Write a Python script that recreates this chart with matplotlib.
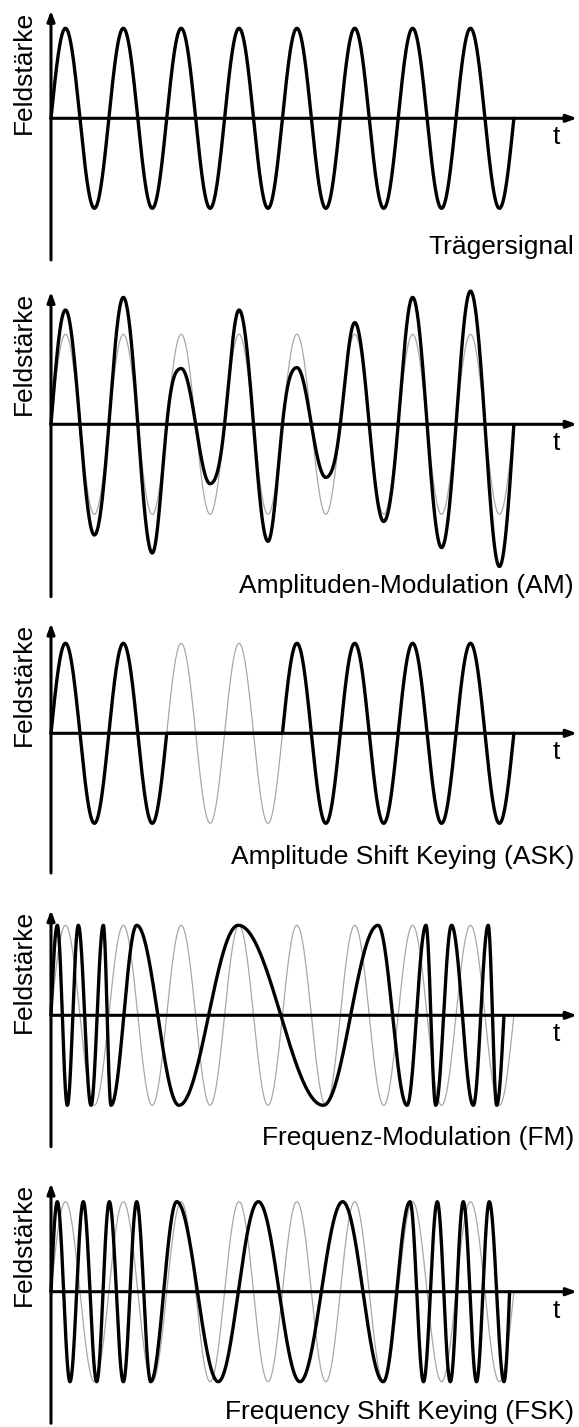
import numpy as np
import matplotlib
matplotlib.use("Agg")
import matplotlib.pyplot as plt

plt.rcParams["font.family"] = ["Liberation Sans", "DejaVu Sans"]

# time is measured in carrier periods, amplitude in carrier amplitudes
n_periods = 8

titles = ["Trägersignal",
          "Amplituden-Modulation (AM)",
          "Amplitude Shift Keying (ASK)",
          "Frequenz-Modulation (FM)",
          "Frequency Shift Keying (FSK)"]

# AM: amplitude of every half wave (peak, trough, peak, ...)
am_envelope = [1.27, 1.23, 1.41, 1.43, 0.62, 0.66, 1.27, 1.30,
               0.63, 0.59, 1.13, 1.08, 1.41, 1.37, 1.48, 1.58]

# ASK: carrier on/off for each period
ask_bits = [1, 1, 0, 0, 1, 1, 1, 1]

# FM / FSK: times of the extrema of the modulated signal (peak, trough, ...)
fm_extrema = [0.109, 0.282, 0.472, 0.691, 0.904, 1.037, 1.481, 2.212, 3.237,
              4.706, 5.652, 6.153, 6.481, 6.649, 6.922, 7.299, 7.556, 7.703]
fm_end = 7.829
fsk_extrema = [0.109, 0.328, 0.558, 0.790, 1.008, 1.250, 1.481, 1.723,
               2.172, 2.891, 3.583, 4.303, 5.041, 5.743,
               6.205, 6.438, 6.676, 6.901, 7.126, 7.354, 7.575, 7.829]
fsk_end = 7.926

# layout (pixels of the 579 x 1427 picture)
W, H = 579, 1427
px_per_t = 57.86
x0_px = 51
amp_px = 90
bands = [(0, 280), (280, 602), (602, 885), (885, 1155), (1155, 1427)]
zero_px = [118.3, 424.3, 733.3, 1015.3, 1291.7]
arrow_top_px = [10.5, 291.7, 623.3, 910, 1183.3]
axis_bottom_px = [260, 596.7, 873, 1146.7, 1423.3]
label_px = [247, 586, 856.7, 1138.3, 1411.7]

BLACK_LW = 2.4
GREY = "#a8a8a8"


def from_extrema(t, extrema, t_end):
    times = [0.0] + list(extrema) + [t_end]
    phases = [0.0] + [np.pi / 2 + k * np.pi for k in range(len(extrema))]
    phases.append(phases[-1] + np.pi / 2)
    tt = t[t <= t_end]
    return tt, np.sin(np.interp(tt, times, phases))


def smooth_envelope(t, values):
    # amplitude held at every peak, eased between neighbouring peaks
    centres = 0.25 + 0.5 * np.arange(len(values))
    pos = np.clip((t - 0.25) / 0.5, 0, len(values) - 1)
    k = np.minimum(pos.astype(int), len(values) - 2)
    s = pos - k
    w = (1 - np.cos(np.pi * s)) / 2
    v = np.array(values)
    return v[k] * (1 - w) + v[k + 1] * w


t = np.linspace(0, n_periods, 4000)
carrier = np.sin(2 * np.pi * t)

am = smooth_envelope(t, am_envelope) * carrier
ask = np.array(ask_bits)[np.minimum(t.astype(int), n_periods - 1)] * carrier
fm_t, fm = from_extrema(t, fm_extrema, fm_end)
fsk_t, fsk = from_extrema(t, fsk_extrema, fsk_end)

signals = [(t, carrier), (t, am), (t, ask), (fm_t, fm), (fsk_t, fsk)]

fig = plt.figure(figsize=(W / 100, H / 100), dpi=100)

for i, (sig_t, sig) in enumerate(signals):
    a, b = bands[i]
    z = zero_px[i]
    ax = fig.add_axes([0, 1 - b / H, 1, (b - a) / H])
    ax.set_xlim(-x0_px / px_per_t, (W - x0_px) / px_per_t)
    ax.set_ylim((z - b) / amp_px, (z - a) / amp_px)
    ax.axis("off")

    if i > 0:
        ax.plot(t, carrier, color=GREY, lw=0.9, zorder=1)
    ax.plot(sig_t, sig, color="black", lw=BLACK_LW, zorder=2,
            solid_capstyle="round", solid_joinstyle="round")

    top = (z - arrow_top_px[i]) / amp_px
    bottom = (z - axis_bottom_px[i]) / amp_px
    right = (577 - x0_px) / px_per_t
    arrow = dict(arrowstyle="-|>,head_length=0.6,head_width=0.22",
                 color="black", lw=2.2, shrinkA=0, shrinkB=0,
                 mutation_scale=10)
    ax.annotate("", xy=(0, top), xytext=(0, bottom), arrowprops=arrow,
                zorder=3)
    ax.annotate("", xy=(right, 0), xytext=(0, 0), arrowprops=arrow,
                zorder=3)

    ax.text((23.5 - x0_px) / px_per_t, top, "Feldstärke", rotation=90,
            ha="center", va="top", fontsize=19)
    ax.text((556 - x0_px) / px_per_t, -19 / amp_px, "t",
            ha="center", va="center", fontsize=19)
    ax.text((574 - x0_px) / px_per_t, (z - label_px[i]) / amp_px, titles[i],
            ha="right", va="center", fontsize=19)

fig.savefig("out.png", dpi=100)
